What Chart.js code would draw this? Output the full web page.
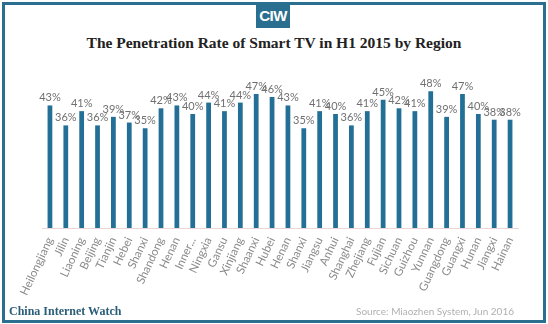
<!DOCTYPE html>
<html>
<head>
<meta charset="utf-8">
<script src="https://cdn.jsdelivr.net/npm/chart.js@4/dist/chart.umd.min.js"></script>
<style>
  html, body { margin: 0; padding: 0; background: #fff; }
  #wrap { position: relative; width: 548px; height: 324px; overflow: hidden; }
  #frame { position: absolute; left: 2px; top: 2px; width: 538px; height: 315px; border: 3px solid #2a6f8f; }
  #logo { position: absolute; left: 256px; top: 3px; width: 34px; height: 25px; background: #2a6f8f; color: #fff;
    font: bold 15px "Liberation Sans Narrow", "Liberation Sans", sans-serif; text-align: center; line-height: 25px; letter-spacing: -0.5px; }
  #title { position: absolute; left: 0; width: 548px; top: 34px; text-align: center; color: #222;
    font: bold 15.5px "Liberation Serif", serif; }
  #brand { position: absolute; left: 9px; top: 304px; color: #2a5d78; font: bold 12px "Liberation Serif", serif; }
  #source { position: absolute; right: 34px; top: 305px; color: #b0b0b0; font: 10px Lato, sans-serif; }
  canvas { position: absolute; left: 0; top: 0; }
</style>
</head>
<body>
<div id="wrap">
  <div id="frame"></div>
  <div id="logo">CIW</div>
  <div id="title">The Penetration Rate of Smart TV in H1 2015 by Region</div>
  <canvas id="chart" width="548" height="324"></canvas>
  <div id="brand">China Internet Watch</div>
  <div id="source">Source: Miaozhen System, Jun 2016</div>
</div>
<script>
const regions = ['Heilongjiang', 'Jilin', 'Liaoning', 'Beijing', 'Tianjin', 'Hebei', 'Shanxi', 'Shandong', 'Henan', 'Inner...',
  'Ningxia', 'Gansu', 'Xinjiang', 'Shaanxi', 'Hubei', 'Henan', 'Shanxi', 'Jiangsu', 'Anhui', 'Shanghai',
  'Zhejiang', 'Fujian', 'Sichuan', 'Guizhou', 'Yunnan', 'Guangdong', 'Guangxi', 'Hunan', 'Jiangxi', 'Hainan'];
const penetration = [43, 36, 41, 36, 39, 37, 35, 42, 43, 40,
  44, 41, 44, 47, 46, 43, 35, 41, 40, 36,
  41, 45, 42, 41, 48, 39, 47, 40, 38, 38];

// etiquetas de valor encima de cada barra
const valueLabels = {
  id: 'valueLabels',
  afterDatasetsDraw(chart) {
    const ctx = chart.ctx;
    ctx.save();
    ctx.font = '11px Lato, sans-serif';
    ctx.fillStyle = '#707070';
    ctx.textAlign = 'center';
    ctx.textBaseline = 'bottom';
    chart.getDatasetMeta(0).data.forEach((bar, i) => {
      ctx.fillText(penetration[i] + '%', bar.x, bar.y - 2);
    });
    ctx.restore();
  }
};

new Chart(document.getElementById('chart'), {
  type: 'bar',
  data: {
    labels: regions,
    datasets: [{
      data: penetration,
      backgroundColor: '#236f96',
      barPercentage: 0.3,
      categoryPercentage: 1
    }]
  },
  options: {
    responsive: false,
    animation: false,
    layout: { padding: { left: 42, right: 30, top: 57, bottom: 0 } },
    plugins: { legend: { display: false }, tooltip: { enabled: false } },
    scales: {
      x: {
        afterFit: (s) => { s.height = 96; },
        grid: { display: false, drawTicks: false },
        border: { color: '#ead6d6', width: 1 },
        ticks: {
          minRotation: 65, maxRotation: 65, autoSkip: false, padding: 7,
          color: '#8a8a8a', font: { size: 11.5, family: 'Lato, sans-serif' }
        }
      },
      y: {
        display: false,
        min: 0, max: 60
      }
    }
  },
  plugins: [valueLabels]
});
</script>
</body>
</html>
